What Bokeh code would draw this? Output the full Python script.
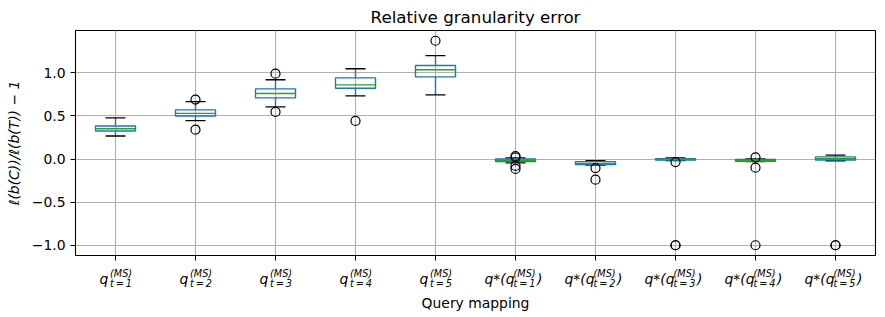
from bokeh.plotting import figure
from bokeh.layouts import column
from bokeh.models import (ColumnDataSource, FixedTicker, CustomJSTickFormatter, Range1d)
from bokeh.core.properties import value
from bokeh.embed import file_html
from bokeh.resources import INLINE

# ---- data ----
positions = [1, 2, 3, 4, 5, 6, 7, 8, 9, 10]
steps = ["1", "2", "3", "4", "5", "1", "2", "3", "4", "5"]
is_mapped = [False, False, False, False, False, True, True, True, True, True]

q1 = [0.326, 0.500, 0.709, 0.821, 0.953, -0.030, -0.065, -0.012, -0.025, -0.012]
med = [0.352, 0.530, 0.760, 0.860, 1.035, -0.015, -0.050, -0.005, -0.020, 0.005]
q3 = [0.384, 0.570, 0.814, 0.942, 1.085, 0.000, -0.030, 0.005, -0.005, 0.025]
w_lo = [0.267, 0.445, 0.605, 0.733, 0.744, -0.045, -0.070, -0.018, -0.030, -0.020]
w_hi = [0.477, 0.666, 0.920, 1.047, 1.200, 0.012, -0.020, 0.012, 0.000, 0.045]

flier_pos = [2, 2, 3, 3, 4, 5, 6, 6, 6, 6, 7, 7, 8, 8, 8, 9, 9, 9, 10, 10]
flier_val = [0.69, 0.34, 0.99, 0.547, 0.442, 1.372, 0.035, 0.02, -0.08, -0.115,
             -0.105, -0.24, -0.035, -1.0, -1.0, 0.02, -0.10, -1.0, -1.0, -1.0]

y_ticks = [-1.0, -0.5, 0.0, 0.5, 1.0]

FONT = "DejaVu Sans"
BLUE = "#1f77b4"
GREEN = "#2ca02c"

box_w = 0.5
cap_half = 0.125

W = 885
P_H = 263
Q_H = 54

p = figure(width=W, height=P_H,
           x_range=Range1d(0.5, 10.5), y_range=Range1d(-1.119, 1.491),
           output_backend="svg", toolbar_location=None,
           min_border_left=75, min_border_right=10,
           min_border_top=30, min_border_bottom=8,
           title="Relative granularity error")

p.title.text_font = FONT
p.title.text_font_size = "16.7px"
p.title.text_font_style = "normal"
p.title.text_color = "black"
p.title.align = "center"
p.title.standoff = 8

p.outline_line_color = "black"
p.outline_line_width = 1.1
p.outline_line_alpha = 1.0

for g in (p.xgrid, p.ygrid):
    g.grid_line_color = "#b0b0b0"
    g.grid_line_width = 1.1
p.xgrid.ticker = FixedTicker(ticks=positions)
p.ygrid.ticker = FixedTicker(ticks=y_ticks)

# y axis
ya = p.yaxis[0]
ya.ticker = FixedTicker(ticks=y_ticks)
ya.formatter = CustomJSTickFormatter(code="return tick.toFixed(1).replace('-', '\\u2212');")
ya.major_label_text_font = FONT
ya.major_label_text_font_size = "13.9px"
ya.major_label_text_color = "black"
ya.major_tick_out = 5
ya.major_tick_in = 0
ya.major_tick_line_color = "black"
ya.minor_tick_out = 0
ya.minor_tick_in = 0
ya.major_label_standoff = 5
ya.axis_label = "\u2113(b(C))/\u2113(b(T)) \u2212 1"
ya.axis_label_text_font = FONT
ya.axis_label_text_font_size = "13.9px"
ya.axis_label_text_font_style = "italic"
ya.axis_label_text_color = "black"
ya.axis_label_standoff = 7
ya.axis_line_color = "black"

# x axis (tick marks only; the labels are composed below)
xa = p.xaxis[0]
xa.ticker = FixedTicker(ticks=positions)
xa.major_label_overrides = {pos: "" for pos in positions}
xa.major_label_text_font_size = "1px"
xa.major_label_standoff = 0
xa.major_tick_out = 5
xa.major_tick_in = 0
xa.major_tick_line_color = "black"
xa.minor_tick_out = 0
xa.minor_tick_in = 0
xa.axis_line_color = "black"

# ---- boxes ----
src = ColumnDataSource(dict(
    x=positions, q1=q1, med=med, q3=q3, lo=w_lo, hi=w_hi,
    bl=[x - box_w / 2 for x in positions], br=[x + box_w / 2 for x in positions],
    cl=[x - cap_half for x in positions], cr=[x + cap_half for x in positions],
))

p.segment(x0="x", y0="q3", x1="x", y1="hi", source=src, line_color=BLUE, line_width=1.4)
p.segment(x0="x", y0="q1", x1="x", y1="lo", source=src, line_color=BLUE, line_width=1.4)
p.segment(x0="cl", y0="hi", x1="cr", y1="hi", source=src, line_color="black", line_width=1.4)
p.segment(x0="cl", y0="lo", x1="cr", y1="lo", source=src, line_color="black", line_width=1.4)
p.quad(left="bl", right="br", bottom="q1", top="q3", source=src,
       fill_color=None, line_color=BLUE, line_width=1.4)
p.segment(x0="bl", y0="med", x1="br", y1="med", source=src, line_color=GREEN, line_width=1.4)

fsrc = ColumnDataSource(dict(x=flier_pos, y=flier_val))
p.scatter(x="x", y="y", source=fsrc, marker="circle", size=9,
          fill_color=None, line_color="black", line_width=1.2)

# ---- label strip under the axis: tick labels q_{t=k}^{(MS)} and the axis title ----
q = figure(width=W, height=Q_H, x_range=p.x_range, y_range=Range1d(Q_H, 0),
           output_backend="svg", toolbar_location=None,
           min_border_left=75, min_border_right=10, min_border_top=0, min_border_bottom=0)
q.axis.visible = False
q.grid.visible = False
q.outline_line_color = None

raw_x = [x for x, m in zip(positions, is_mapped) if not m]
raw_s = [s for s, m in zip(steps, is_mapped) if not m]
map_x = [x for x, m in zip(positions, is_mapped) if m]
map_s = [s for s, m in zip(steps, is_mapped) if m]

THIN = "\u2009"
raw_src = ColumnDataSource(dict(x=raw_x, main=["q"] * len(raw_x),
                                sup=["(MS)"] * len(raw_x),
                                sub=["t" + THIN + "=" + THIN + s for s in raw_s]))
map_src = ColumnDataSource(dict(x=map_x, main=["q*(q"] * len(map_x),
                                sup=["(MS)"] * len(map_x),
                                sub=["t" + THIN + "=" + THIN + s for s in map_s],
                                close=[")"] * len(map_x)))

MAIN = "13.9px"
SMALL = "9.7px"
BASE_MAIN = 15.3   # px below the strip top
BASE_SUP = 9.8
BASE_SUB = 20.1


def piece(source, field, dx, base, size, style="italic"):
    q.text(x="x", y=base, text=field, source=source, x_offset=dx,
           text_font=value(FONT), text_font_size=size, text_font_style=style,
           text_align="left", text_baseline="alphabetic", text_color="black")


piece(raw_src, "main", -16, BASE_MAIN, MAIN)
piece(raw_src, "sup", -5.5, BASE_SUP, SMALL)
piece(raw_src, "sub", -5.5, BASE_SUB, SMALL)

piece(map_src, "main", -31, BASE_MAIN, MAIN)
piece(map_src, "sup", -2, BASE_SUP, SMALL)
piece(map_src, "sub", -2, BASE_SUB, SMALL)
piece(map_src, "close", 21.5, BASE_MAIN, MAIN)

title_src = ColumnDataSource(dict(x=[(p.x_range.start + p.x_range.end) / 2], t=["Query mapping"]))
q.text(x="x", y=39.7, text="t", source=title_src, text_font=value(FONT),
       text_font_size="13.9px", text_font_style="normal", text_align="center",
       text_baseline="alphabetic", text_color="black")

layout = column(p, q, spacing=0)
open("out.html", "w").write(file_html(layout, INLINE))
